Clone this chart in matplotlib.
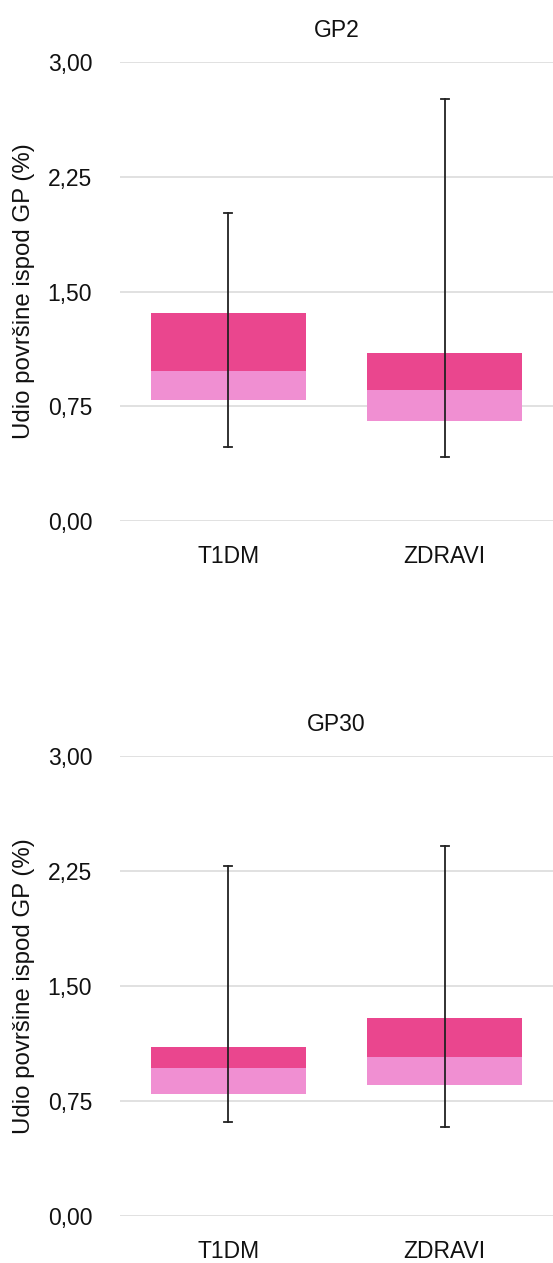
import matplotlib.pyplot as plt

plt.rcParams['font.family'] = ['Liberation Sans', 'DejaVu Sans']

grupe = ["T1DM", "ZDRAVI"]
naslovi = ["GP2", "GP30"]
y_oznake = ["0,00", "0,75", "1,50", "2,25", "3,00"]
y_vrijednosti = [0.0, 0.75, 1.5, 2.25, 3.0]

# min, Q1, medijan, Q3, max za svaku grupu
gp2_min = [0.485, 0.415]
gp2_q1 = [0.79, 0.655]
gp2_med = [0.98, 0.858]
gp2_q3 = [1.362, 1.10]
gp2_max = [2.01, 2.76]

gp30_min = [0.615, 0.583]
gp30_q1 = [0.793, 0.854]
gp30_med = [0.967, 1.034]
gp30_q3 = [1.102, 1.294]
gp30_max = [2.286, 2.41]

svijetla = "#F08FD2"
tamna = "#EA468E"


def boxplot(ax, naslov, mn, q1, med, q3, mx):
    x = range(len(grupe))
    ax.bar(x, [m - a for m, a in zip(med, q1)], bottom=q1, width=0.716,
           color=svijetla, zorder=2)
    ax.bar(x, [b - m for b, m in zip(q3, med)], bottom=med, width=0.716,
           color=tamna, zorder=2)
    for i in x:
        ax.plot([i, i], [mn[i], mx[i]], color="#222222", lw=1.3, zorder=3)
        ax.plot([i - 0.018, i + 0.018], [mn[i], mn[i]], color="#222222", lw=1.3, zorder=3)
        ax.plot([i - 0.018, i + 0.018], [mx[i], mx[i]], color="#222222", lw=1.3, zorder=3)
    ax.set_xlim(-0.5, 1.5)
    ax.set_ylim(0, 3.0)
    ax.set_yticks(y_vrijednosti)
    ax.set_yticklabels(y_oznake)
    ax.set_xticks(list(x))
    ax.set_xticklabels(grupe)
    ax.tick_params(axis="both", length=0, labelsize=16.5, colors="#111111")
    ax.tick_params(axis="x", pad=17)
    ax.tick_params(axis="y", pad=20)
    ax.grid(axis="y", color="#d9d9d9", lw=1.1, zorder=0)
    for s in ax.spines.values():
        s.set_visible(False)
    ax.set_title(naslov, fontsize=16.5, pad=18, color="#111111")
    ax.set_ylabel("Udio površine ispod GP (%)", fontsize=17.3, labelpad=9, color="#111111")


fig = plt.figure(figsize=(5.53, 12.63), dpi=100)
ax1 = fig.add_axes([0.217, 0.5875, 0.783, 0.3634])
ax2 = fig.add_axes([0.217, 0.0372, 0.783, 0.3642])

boxplot(ax1, naslovi[0], gp2_min, gp2_q1, gp2_med, gp2_q3, gp2_max)
boxplot(ax2, naslovi[1], gp30_min, gp30_q1, gp30_med, gp30_q3, gp30_max)

fig.savefig("out.png", dpi=100)
